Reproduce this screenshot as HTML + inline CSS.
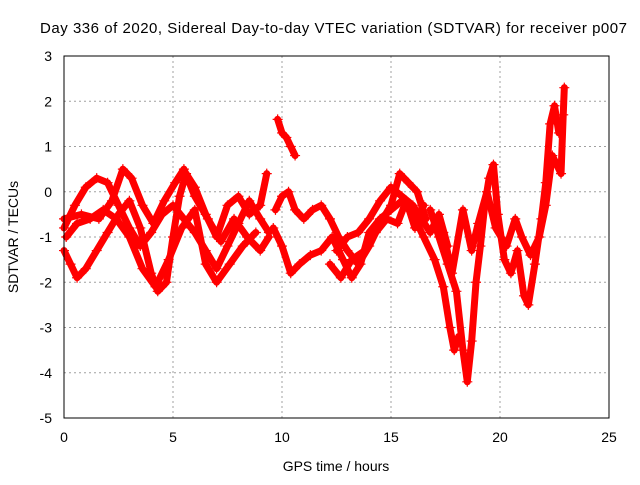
<!DOCTYPE html>
<html><head><meta charset="utf-8"><style>
body{margin:0;background:#fff;width:640px;height:480px;overflow:hidden}
svg{font-family:"Liberation Sans",sans-serif;font-size:14px}
</style></head><body>
<svg id="chart" width="640" height="480" viewBox="0 0 640 480">
<text x="40" y="33" font-size="15" textLength="587" lengthAdjust="spacing">Day 336 of 2020, Sidereal Day-to-day VTEC variation (SDTVAR) for receiver p007</text>
<g id="grid"></g>
<g id="marks"></g>
<rect x="64" y="56" width="545" height="362" fill="none" stroke="#000" stroke-width="1"/>
<g id="ticks"></g>
<text x="336" y="471" text-anchor="middle">GPS time / hours</text>
<text transform="translate(18,237) rotate(-90)" text-anchor="middle">SDTVAR / TECUs</text>
</svg>
<script>
const xTicks=[0,5,10,15,20,25];
const yTicks=[-5,-4,-3,-2,-1,0,1,2,3];
const trackA=[[0,-1.3],[0.3,-1.6],[0.6,-1.9],[1,-1.7],[1.5,-1.3],[2,-0.9],[2.5,-0.5],[3,-0.2],[3.5,-0.8],[4,-1.8],[4.3,-2.2],[4.7,-2.0],[5,-1.0],[5.3,-0.1],[5.6,0.4],[6,0.1],[6.5,-0.5],[7,-1.0],[7.5,-0.3],[8,-0.1],[8.5,-0.5],[9,-0.3],[9.3,0.4]];
const trackB=[[0,-0.8],[0.5,-0.3],[1,0.1],[1.5,0.3],[2,0.2],[2.5,-0.3],[3,-0.8],[3.5,-1.2],[4,-0.9],[4.5,-0.5],[5,-0.3],[5.5,-0.6],[6,-0.9],[6.5,-1.3],[7,-1.7],[7.5,-1.2],[8,-0.7],[8.5,-0.2],[9,-0.6],[9.4,-0.9]];
const trackC=[[0,-0.6],[0.8,-0.5],[1.6,-0.6],[2.2,-0.2],[2.7,0.5],[3.1,0.3],[3.6,-0.3],[4.1,-0.7],[4.6,-0.2],[5.1,0.2],[5.5,0.5],[6,-0.1],[6.6,-0.6],[7.2,-1.1],[7.8,-0.6],[8.4,-1.0],[9,-1.3],[9.4,-1.0]];
const trackD=[[0.1,-1.0],[0.6,-0.7],[1.2,-0.6],[1.8,-0.4],[2.4,-0.6],[3,-1.0],[3.6,-1.7],[4.2,-2.1],[4.8,-1.5],[5.4,-0.8],[6,-0.4],[6.5,-1.6],[7,-2.0],[7.6,-1.6],[8.2,-1.2],[8.8,-0.9]];
const trackE=[[9.8,1.6],[10,1.3],[10.2,1.2],[10.4,1.0],[10.6,0.8]];
const trackF=[[9.7,-0.4],[10,-0.1],[10.3,0.0],[10.6,-0.4],[11,-0.6],[11.4,-0.4],[11.8,-0.3],[12.2,-0.6],[12.6,-1.0],[13,-1.3],[13.5,-1.6],[14,-1.2],[14.5,-0.7],[15,-0.3],[15.4,0.4],[15.8,0.2],[16.2,0.0],[16.6,-0.6]];
const trackG=[[9.6,-0.8],[10,-1.2],[10.4,-1.8],[10.8,-1.6],[11.3,-1.4],[11.8,-1.3],[12.3,-1.0],[12.8,-1.5],[13.2,-1.9],[13.6,-1.6],[14,-0.9],[14.5,-0.6],[15,-0.4],[15.5,-0.2],[16,-0.5],[16.5,-1.0],[17,-1.5],[17.4,-2.1],[17.7,-3.0],[17.9,-3.5],[18.1,-3.2]];
const trackH=[[16.8,-0.4],[17.2,-1.0],[17.6,-1.6],[18,-2.2],[18.3,-3.5],[18.5,-4.2],[18.7,-3.3],[18.9,-2.0],[19.1,-1.2],[19.3,-0.3],[19.5,0.3],[19.7,0.6],[19.9,-0.5],[20.2,-1.5],[20.5,-1.8],[20.8,-1.3],[21.1,-2.3],[21.3,-2.5],[21.6,-1.6],[21.9,-0.6],[22.1,0.2],[22.3,1.5],[22.5,1.9],[22.7,1.3]];
const trackI=[[17.4,-0.9],[17.8,-1.8],[18.3,-0.4],[18.7,-1.3],[19,-0.7],[19.4,0.0],[19.8,-0.8],[20.3,-1.2],[20.7,-0.6],[21,-1.0],[21.4,-1.4],[21.8,-1.0],[22.1,-0.3],[22.4,0.8],[22.6,0.6],[22.8,0.4],[22.9,1.7],[22.95,2.3]];
const trackJ=[[12.5,-1.3],[13,-1.0],[13.5,-0.9],[14,-0.6],[14.5,-0.2],[15,0.1],[15.5,-0.1],[16,-0.3],[16.4,-0.6],[16.8,-0.9],[17.2,-0.5],[17.6,-1.2]];
const trackK=[[12.2,-1.6],[12.7,-1.9],[13.2,-1.5],[13.8,-1.3],[14.3,-0.9],[14.8,-0.6],[15.3,-0.7],[15.7,-0.2],[16.1,-0.8],[16.5,-0.3]];
const tracks=[trackA,trackB,trackC,trackD,trackE,trackF,trackG,trackH,trackI,trackJ,trackK];
const NS="http://www.w3.org/2000/svg";
const X=v=>64+v*545/25, Y=v=>418-(v+5)*362/8;
const grid=document.getElementById('grid'),ticks=document.getElementById('ticks'),marks=document.getElementById('marks');
function mk(tag,at,parent){const e=document.createElementNS(NS,tag);for(const k in at)e.setAttribute(k,at[k]);parent.appendChild(e);return e;}
xTicks.forEach(t=>{
 if(t>0&&t<25){const g=mk('line',{x1:X(t),x2:X(t),y1:56,y2:418,stroke:'#a0a0a0','stroke-dasharray':'2,3'},grid);
 
 }
 const l=mk('text',{x:X(t),y:442,'text-anchor':'middle'},ticks);l.textContent=t;
 
 
});
yTicks.forEach(t=>{
 if(t>-5&&t<3){const g=mk('line',{x1:64,x2:609,y1:Y(t),y2:Y(t),stroke:'#a0a0a0','stroke-dasharray':'2,3'},grid);
 
 }
 const l=mk('text',{x:52,y:Y(t)+5,'text-anchor':'end'},ticks);l.textContent=t;
 
 
});
tracks.forEach(tr=>{
 const p=mk('polyline',{points:tr.map(d=>X(d[0])+','+Y(d[1])).join(' '),fill:'none',stroke:'#ff0000','stroke-width':7,'stroke-linejoin':'round','stroke-linecap':'round'},marks);
 
 
 tr.forEach(d=>{
  const x=X(d[0]),y=Y(d[1]);
  const m=mk('path',{d:`M${x-5},${y}H${x+5}M${x},${y-5}V${y+5}`,stroke:'#ff0000','stroke-width':1.2},marks);
  
  
 });
});
</script>
</body></html>
